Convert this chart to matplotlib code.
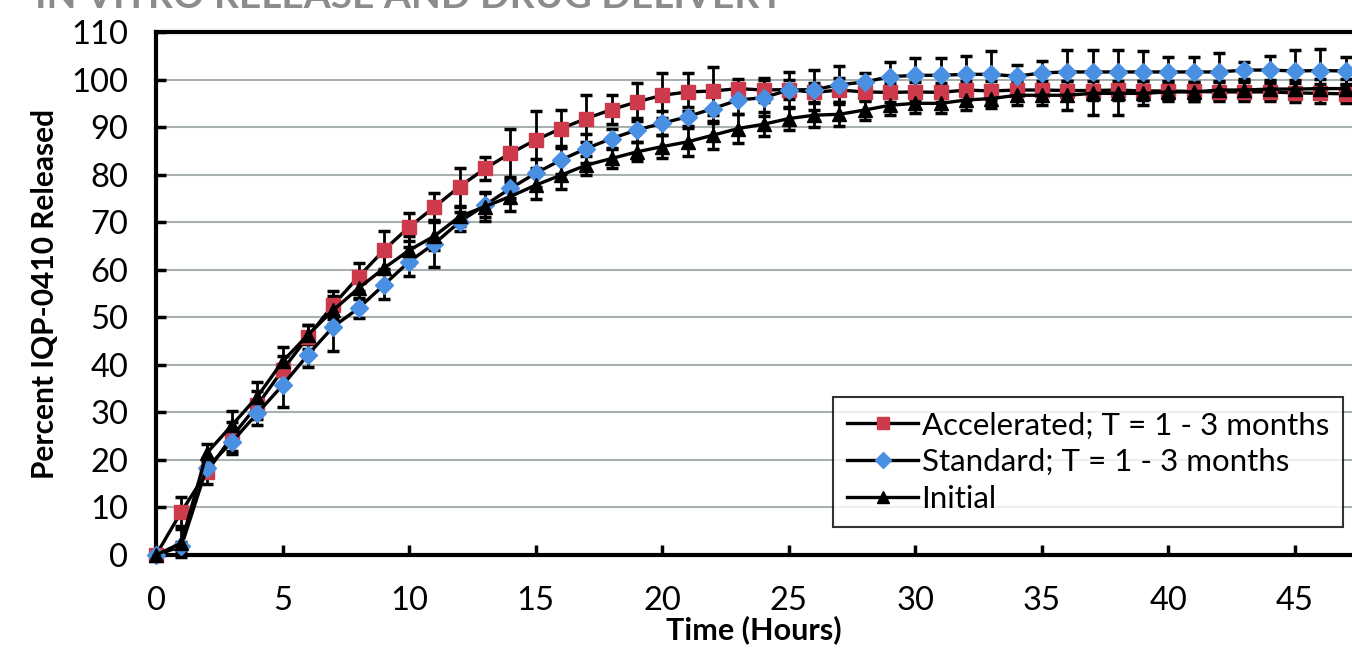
import numpy as np
import matplotlib
matplotlib.use("Agg")
import matplotlib.pyplot as plt
from matplotlib.lines import Line2D

plt.rcParams['font.family'] = ['Lato', 'DejaVu Sans']

hours = np.arange(0, 48)

accelerated = [0, 9.1, 17.4, 24.9, 31.5, 38.9, 45.9, 52.6, 58.5, 64.1, 69.0, 73.2,
               77.5, 81.3, 84.5, 87.3, 89.7, 91.8, 93.7, 95.3, 96.7, 97.4, 97.6, 98.1,
               97.8, 97.9, 97.3, 97.8, 97.4, 97.3, 97.4, 97.3, 97.8, 97.6, 97.8, 97.8,
               97.7, 97.7, 97.8, 97.6, 97.6, 97.5, 97.4, 97.4, 97.4, 97.2, 97.1, 97.0]
accelerated_err = [0, 3, 2.5, 3, 3, 3, 2.5, 3, 3, 4, 3, 3,
                   4, 2.5, 5, 6, 4, 5, 3, 4, 4.7, 4, 5, 2,
                   2.5, 2, 2, 2.5, 2, 2, 2, 2, 2, 2, 2, 2,
                   2, 2, 2, 2, 2, 2, 2, 2, 2, 2, 2, 2]

standard = [0, 1.8, 18.3, 23.8, 29.8, 35.7, 42.1, 48.0, 51.9, 56.8, 61.7, 65.5,
            70.1, 73.6, 77.1, 80.3, 83.1, 85.5, 87.6, 89.4, 90.8, 92.2, 93.9, 95.7,
            96.2, 97.8, 97.9, 98.9, 99.5, 100.6, 100.9, 100.9, 101.1, 101.1, 100.7, 101.4,
            101.6, 101.6, 101.6, 101.6, 101.6, 101.6, 101.6, 102.0, 102.0, 101.8, 101.9, 101.8]
standard_err = [0, 1, 2, 2.5, 2.5, 4.5, 2.5, 5, 2, 3, 3, 5,
                2, 2.5, 2, 3, 3, 3, 2, 2.5, 2.5, 2, 3, 3,
                3.8, 3.7, 4.2, 4, 1.8, 3, 3.7, 3.7, 3.8, 5, 2.3, 2.5,
                4.7, 4.7, 4.7, 4.4, 3.2, 3.2, 4, 1.8, 3, 4.5, 4.5, 3]

initial = [0, 2.5, 21.4, 27.3, 33.3, 40.7, 46.3, 51.5, 56.1, 60.3, 64.1, 67.1,
           71.2, 73.3, 75.4, 77.8, 79.9, 82.0, 83.4, 84.8, 85.9, 86.9, 88.3, 89.7,
           90.6, 91.8, 92.5, 92.7, 93.6, 94.6, 95.0, 95.0, 95.7, 96.0, 96.7, 96.7,
           96.7, 97.1, 97.1, 97.1, 97.4, 97.4, 97.8, 97.8, 98.0, 98.0, 98.1, 98.1]
initial_err = [0, 3, 2, 3, 3, 3, 2, 3, 2, 3, 3, 3,
               2, 3, 3, 3, 3, 2, 2, 2, 2.5, 3, 3, 3,
               2.5, 2.5, 2.5, 2.5, 2, 2, 2, 2, 2, 2, 2, 2,
               3.1, 4.6, 4.6, 2.5, 2, 2, 2, 2, 2, 2, 2, 2]

series = [
    ("Accelerated; T = 1 - 3 months", accelerated, accelerated_err, 's', '#CC3A4C', 10),
    ("Standard; T = 1 - 3 months", standard, standard_err, 'D', '#4A90E2', 9.5),
    ("Initial", initial, initial_err, '^', '#000000', 10),
]

fig = plt.figure(figsize=(13.52, 6.51), dpi=100)
ax = fig.add_axes([0.1154, 0.1475, 0.8846, 0.8033])

handles = []
for label, vals, err, marker, color, ms in series:
    ax.errorbar(hours, vals, yerr=err, color='black', ecolor='black',
                elinewidth=2, capsize=4.5, capthick=2.5, lw=2.4,
                marker=marker, markersize=ms, markerfacecolor=color,
                markeredgecolor=color, clip_on=False, zorder=3)
    handles.append(Line2D([], [], color='black', lw=2.4, marker=marker,
                          markersize=ms * 0.85, markerfacecolor=color,
                          markeredgecolor=color, label=label))

ax.set_xlim(0, 47.25)
ax.set_ylim(0, 110)
ax.set_xticks(np.arange(0, 50, 5))
ax.set_yticks(np.arange(0, 111, 10))
ax.yaxis.grid(True, color='#A8B0B0', lw=1.5)
ax.set_axisbelow(True)

for side in ['left', 'bottom', 'top']:
    ax.spines[side].set_linewidth(3)
    ax.spines[side].set_color('black')
ax.spines['right'].set_visible(False)

ax.tick_params(direction='in', length=7, width=2.5, labelsize=23.5)
ax.tick_params(axis='y', pad=20)
ax.tick_params(axis='x', pad=22)

ax.set_xlabel("Time (Hours)", fontsize=22, fontweight='bold', labelpad=0)
ax.set_ylabel("Percent IQP-0410 Released", fontsize=21.5, fontweight='bold', labelpad=9)

leg = ax.legend(handles=handles, loc='lower right', bbox_to_anchor=(0.9925, 0.0535),
                fontsize=22.5, frameon=True, fancybox=False, handlelength=2.3,
                handletextpad=0.1, borderpad=0.45, labelspacing=0.28, borderaxespad=0)
leg.get_frame().set_edgecolor('black')
leg.get_frame().set_linewidth(1.5)
leg.set_zorder(5)

fig.text(0.026, 0.988, "IN VITRO RELEASE AND DRUG DELIVERY", fontsize=28,
         color='#8C8C8C', fontweight='bold', va='baseline', ha='left')

fig.savefig("out.png", dpi=100)
